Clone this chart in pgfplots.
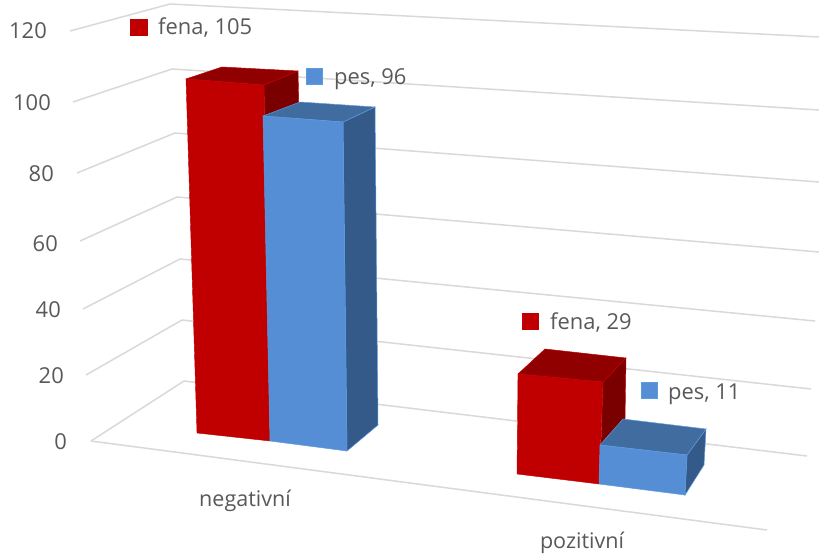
\documentclass[border=0pt]{standalone}
\usepackage{pgfplots}
\pgfplotsset{compat=1.18}
\usepackage{fontspec}
\setmainfont{Open Sans}
\definecolor{gridc}{HTML}{D9D9D9}
\definecolor{txt}{HTML}{595959}
\definecolor{rf}{HTML}{C00000}
\definecolor{rt}{HTML}{900000}
\definecolor{rs}{HTML}{7A0000}
\definecolor{bf}{HTML}{558ED5}
\definecolor{bt}{HTML}{416CA0}
\definecolor{bs}{HTML}{345A8A}
\definecolor{be}{HTML}{5B9BE0}
\newcommand{\lab}{\fontsize{22}{26}\selectfont\color{txt}}
\begin{document}
\begin{tikzpicture}
\begin{axis}[
  scale only axis, width=819bp, height=554bp,
  xmin=0, xmax=819, ymin=0, ymax=554, y dir=reverse,
  hide axis, clip=true,
  axis background/.style={fill=white},
  grid3/.style={draw=gridc, line width=1.5bp, no marks},
  redface/.style={fill=rf, draw=rf, line width=0.4bp, no marks},
  redtop/.style={fill=rt, draw=rf, line width=0.5bp, no marks},
  redside/.style={fill=rs, draw=rf, line width=0.4bp, no marks},
  blueface/.style={fill=bf, draw=be, line width=0.5bp, no marks},
  bluetop/.style={fill=bt, draw=be, line width=0.5bp, no marks},
  blueside/.style={fill=bs, draw=be, line width=0.5bp, no marks},
]
% value gridlines: side wall, then back wall
\addplot[grid3] coordinates {(70,31) (170,4) (819,37)};
\addplot[grid3] coordinates {(73,102) (172,69) (819,110)};
\addplot[grid3] coordinates {(77,173) (175,133) (819,182)};
\addplot[grid3] coordinates {(80,241) (177,197) (819,252)};
\addplot[grid3] coordinates {(83,309) (180,259) (815,321)};
\addplot[grid3] coordinates {(86,375) (182,320) (811,389)};
\addplot[grid3] coordinates {(91,441) (184,381) (807,456)};
% floor front edge
\addplot[grid3] coordinates {(91,441) (767,530)};

% negativni, fena = 105
\addplot[redside] coordinates {(264,85) (298,71) (299,112) (265,132)} --cycle;
\addplot[redtop] coordinates {(186,79) (222,67) (298,71) (264,85)} --cycle;
\addplot[redface] coordinates {(186,79) (264,85) (270,441) (197,433)} --cycle;
% negativni, pes = 96
\addplot[blueside] coordinates {(343,122) (375,107) (378,425) (347,451)} --cycle;
\addplot[bluetop] coordinates {(263,116) (300,102) (375,107) (343,122)} --cycle;
\addplot[blueface] coordinates {(263,116) (343,122) (347,451) (270,441)} --cycle;

% pozitivni, fena = 29
\addplot[redside] coordinates {(603,382) (626,358) (625,420) (601,445)} --cycle;
\addplot[redtop] coordinates {(518,374) (545,349) (626,358) (603,382)} --cycle;
\addplot[redface] coordinates {(518,374) (603,382) (599,484) (517,474)} --cycle;
% pozitivni, pes = 11
\addplot[blueside] coordinates {(687,455) (706,429) (704,465) (685,495)} --cycle;
\addplot[bluetop] coordinates {(600,445) (623,419) (706,429) (687,455)} --cycle;
\addplot[blueface] coordinates {(600,445) (687,455) (685,495) (599,484)} --cycle;

% series keys beside the data labels
\addplot[fill=rf, draw=rf, no marks] coordinates {(130,19) (147,19) (147,35) (130,35)} --cycle;
\addplot[fill=bf, draw=be, no marks] coordinates {(306,68) (322,68) (322,84) (306,84)} --cycle;
\addplot[fill=rf, draw=rf, no marks] coordinates {(522,313) (538,313) (538,329) (522,329)} --cycle;
\addplot[fill=bf, draw=be, no marks] coordinates {(641,382) (657,382) (657,398) (641,398)} --cycle;

\node[anchor=base west, inner sep=0pt] at (axis cs:158,35) {\lab fena, 105};
\node[anchor=base west, inner sep=0pt] at (axis cs:334,85) {\lab pes, 96};
\node[anchor=base west, inner sep=0pt] at (axis cs:550,329) {\lab fena, 29};
\node[anchor=base west, inner sep=0pt] at (axis cs:668,399) {\lab pes, 11};

% value labels
\node[anchor=base east, inner sep=0pt] at (axis cs:47,39) {\lab 120};
\node[anchor=base east, inner sep=0pt] at (axis cs:51,110) {\lab 100};
\node[anchor=base east, inner sep=0pt] at (axis cs:54,181) {\lab 80};
\node[anchor=base east, inner sep=0pt] at (axis cs:58,251) {\lab 60};
\node[anchor=base east, inner sep=0pt] at (axis cs:61,317) {\lab 40};
\node[anchor=base east, inner sep=0pt] at (axis cs:64,383) {\lab 20};
\node[anchor=base east, inner sep=0pt] at (axis cs:67,449) {\lab 0};

% category labels
\node[anchor=base, inner sep=0pt] at (axis cs:245,506) {\fontsize{21.6}{25}\selectfont\color{txt}negativní};
\node[anchor=base, inner sep=0pt] at (axis cs:582,548) {\fontsize{21.6}{25}\selectfont\color{txt}pozitivní};
\end{axis}
\end{tikzpicture}
\end{document}
